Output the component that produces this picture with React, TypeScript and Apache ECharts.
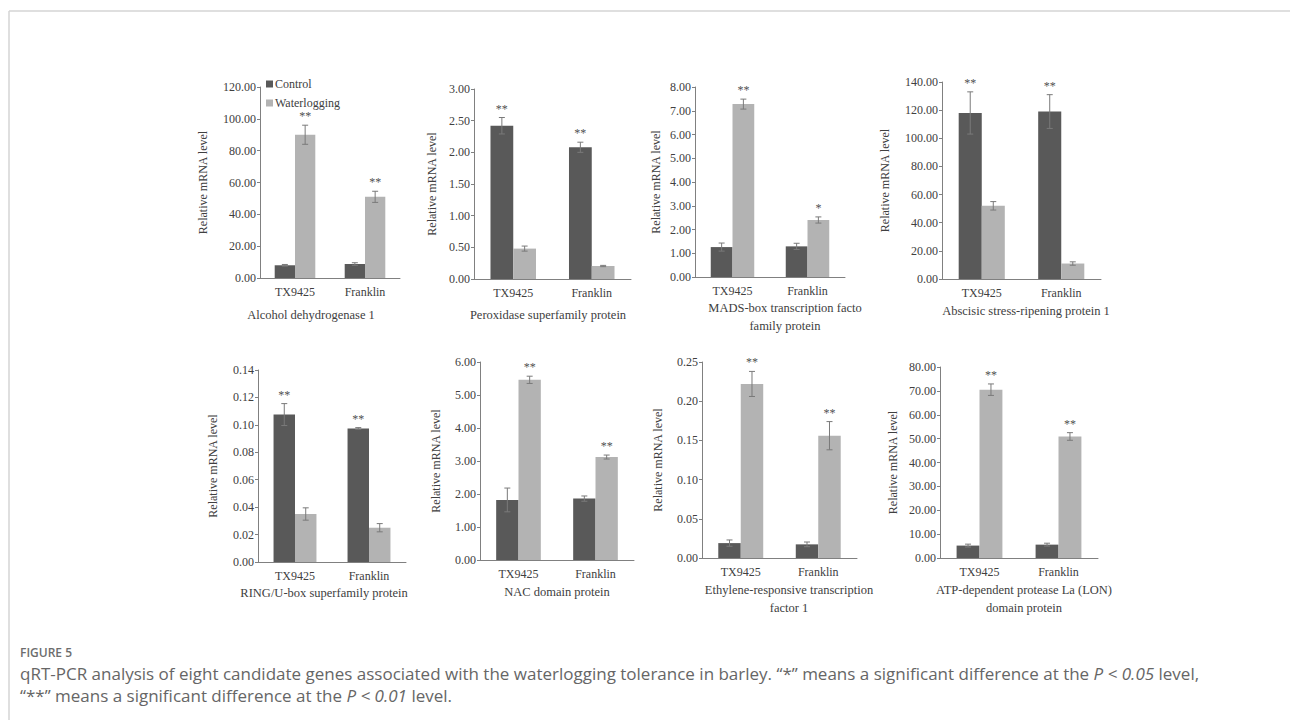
import React, { useEffect, useRef } from "react";
import * as echarts from "echarts";

// Shared categories and series
const categories = ["TX9425", "Franklin"];
const seriesNames = ["Control", "Waterlogging"];

// One entry per gene panel: [TX9425, Franklin]
const controlMeans = [
  [8.0, 8.8],
  [2.42, 2.08],
  [1.26, 1.29],
  [118, 119],
  [0.1075, 0.0974],
  [1.82, 1.86],
  [0.019, 0.0174],
  [5.2, 5.6],
];
const controlErrors = [
  [0.5, 0.8],
  [0.13, 0.08],
  [0.17, 0.13],
  [15, 12],
  [0.008, 0.0006],
  [0.36, 0.08],
  [0.004, 0.003],
  [0.6, 0.6],
];
const waterMeans = [
  [90, 51],
  [0.48, 0.205],
  [7.28, 2.4],
  [52, 11],
  [0.035, 0.025],
  [5.46, 3.12],
  [0.222, 0.156],
  [70.5, 50.9],
];
const waterErrors = [
  [6, 3.5],
  [0.04, 0.01],
  [0.21, 0.13],
  [3, 1.2],
  [0.0045, 0.003],
  [0.11, 0.06],
  [0.016, 0.018],
  [2.4, 1.6],
];
const controlMarks = [
  ["", ""],
  ["**", "**"],
  ["", ""],
  ["**", "**"],
  ["**", "**"],
  ["", ""],
  ["", ""],
  ["", ""],
];
const waterMarks = [
  ["**", "**"],
  ["", ""],
  ["**", "*"],
  ["", ""],
  ["", ""],
  ["**", "**"],
  ["**", "**"],
  ["**", "**"],
];
const yMax = [120, 3, 8, 140, 0.14, 6, 0.25, 80];
const yStep = [20, 0.5, 1, 20, 0.02, 1, 0.05, 10];
const geneTitles = [
  ["Alcohol dehydrogenase 1"],
  ["Peroxidase superfamily protein"],
  ["MADS-box transcription facto", "family protein"],
  ["Abscisic stress-ripening protein 1"],
  ["RING/U-box superfamily protein"],
  ["NAC domain protein"],
  ["Ethylene-responsive transcription", "factor 1"],
  ["ATP-dependent protease La (LON)", "domain protein"],
];
const yAxisTitle = "Relative mRNA level";
const figureLabel = "FIGURE 5";
const captionLine1 =
  "qRT-PCR analysis of eight candidate genes associated with the waterlogging tolerance in barley. \u201c*\u201d means a significant difference at the {i|P < 0.05} level,";
const captionLine2 = "\u201c**\u201d means a significant difference at the {i|P < 0.01} level.";

// Panel placement in pixels
const panels = [
  { left: 260, top: 87, width: 140, height: 191, nameX: 203, titleX: 311, titleY: 315 },
  { left: 474, top: 89, width: 157, height: 190, nameX: 432, titleX: 548, titleY: 315 },
  { left: 695, top: 87, width: 150, height: 190, nameX: 656, titleX: 785, titleY: 308 },
  { left: 942, top: 82, width: 159, height: 197, nameX: 885, titleX: 1026, titleY: 311 },
  { left: 258, top: 370, width: 148, height: 192, nameX: 213, titleX: 324, titleY: 593 },
  { left: 480, top: 362, width: 154, height: 198, nameX: 436, titleX: 557, titleY: 592 },
  { left: 702, top: 362, width: 155, height: 196, nameX: 658, titleX: 789, titleY: 590 },
  { left: 940, top: 367, width: 158, height: 191, nameX: 893, titleX: 1024, titleY: 590 },
];

const SERIF = '"Liberation Serif", "Times New Roman", serif';
const SANS = '"Open Sans", "Noto Sans", sans-serif';
const TEXT = "#404040";
const AXIS = "#808080";
const DARK = "#595959";
const LIGHT = "#b3b3b3";
const BAR_FRACTION = 0.29;

function errorSeries(i: number, means: number[], errs: number[], marks: string[], side: number) {
  return {
    type: "custom",
    xAxisIndex: i,
    yAxisIndex: i,
    z: 5,
    clip: false,
    data: categories.map((_, j) => [j, means[j], errs[j]]),
    renderItem: (params: any, api: any) => {
      const xi = api.value(0);
      const mean = api.value(1);
      const err = api.value(2);
      const band = api.size([1, 0])[0];
      const bw = band * BAR_FRACTION;
      const top = api.coord([xi, mean + err]);
      const bot = api.coord([xi, mean - err]);
      const x = top[0] + (side * bw) / 2;
      const cap = 3;
      const lineStyle = { stroke: "#7a7a7a", lineWidth: 1 };
      const children: any[] = [
        { type: "line", shape: { x1: x, y1: top[1], x2: x, y2: bot[1] }, style: lineStyle },
        { type: "line", shape: { x1: x - cap, y1: top[1], x2: x + cap, y2: top[1] }, style: lineStyle },
        { type: "line", shape: { x1: x - cap, y1: bot[1], x2: x + cap, y2: bot[1] }, style: lineStyle },
      ];
      const mark = marks[params.dataIndex];
      if (mark) {
        children.push({
          type: "text",
          x: x,
          y: top[1] - 3,
          style: {
            text: mark,
            fill: "#505050",
            font: `12px ${SERIF}`,
            align: "center",
            verticalAlign: "bottom",
          },
        });
      }
      return { type: "group", children };
    },
  };
}

function buildOption() {
  const grid: any[] = [];
  const xAxis: any[] = [];
  const yAxis: any[] = [];
  const series: any[] = [];
  const graphic: any[] = [];

  panels.forEach((p, i) => {
    grid.push({ left: p.left, top: p.top, width: p.width, height: p.height });
    xAxis.push({
      gridIndex: i,
      type: "category",
      data: categories,
      axisLine: { lineStyle: { color: AXIS, width: 1 } },
      axisTick: { show: false },
      axisLabel: { margin: 8, fontSize: 12, fontFamily: SERIF, color: TEXT },
    });
    yAxis.push({
      gridIndex: i,
      type: "value",
      min: 0,
      max: yMax[i],
      interval: yStep[i],
      splitLine: { show: false },
      axisLine: { show: true, lineStyle: { color: AXIS, width: 1 } },
      axisTick: { show: true, length: 3, lineStyle: { color: AXIS } },
      axisLabel: {
        margin: 4,
        fontSize: 12,
        fontFamily: SERIF,
        color: TEXT,
        formatter: (v: number) => v.toFixed(2),
      },
    });
    series.push({
      type: "bar",
      name: seriesNames[0],
      xAxisIndex: i,
      yAxisIndex: i,
      data: controlMeans[i],
      barWidth: `${BAR_FRACTION * 100}%`,
      barGap: "0%",
      itemStyle: { color: DARK },
    });
    series.push({
      type: "bar",
      name: seriesNames[1],
      xAxisIndex: i,
      yAxisIndex: i,
      data: waterMeans[i],
      barWidth: `${BAR_FRACTION * 100}%`,
      barGap: "0%",
      itemStyle: { color: LIGHT },
    });
    series.push(errorSeries(i, controlMeans[i], controlErrors[i], controlMarks[i], -1));
    series.push(errorSeries(i, waterMeans[i], waterErrors[i], waterMarks[i], 1));

    // rotated y-axis title
    graphic.push({
      type: "text",
      x: p.nameX,
      y: p.top + p.height / 2,
      rotation: Math.PI / 2,
      style: {
        text: yAxisTitle,
        font: `12px ${SERIF}`,
        fill: TEXT,
        align: "center",
        verticalAlign: "middle",
      },
    });
    // gene name under the panel
    geneTitles[i].forEach((line, k) => {
      graphic.push({
        type: "text",
        x: p.titleX,
        y: p.titleY + k * 18,
        style: {
          text: line,
          font: `12.5px ${SERIF}`,
          fill: TEXT,
          align: "center",
          verticalAlign: "middle",
        },
      });
    });
  });

  // page frame
  graphic.push({
    type: "line",
    shape: { x1: 9, y1: 11, x2: 1290, y2: 11 },
    style: { stroke: "#d4d4d4", lineWidth: 1.5 },
  });
  graphic.push({
    type: "line",
    shape: { x1: 9, y1: 11, x2: 9, y2: 720 },
    style: { stroke: "#d4d4d4", lineWidth: 1.5 },
  });

  // caption
  graphic.push({
    type: "text",
    x: 20,
    y: 652,
    style: {
      text: figureLabel,
      font: `600 12px ${SANS}`,
      fill: "#6d6d6d",
      align: "left",
      verticalAlign: "middle",
    },
  });
  [captionLine1, captionLine2].forEach((line, k) => {
    graphic.push({
      type: "text",
      x: 20,
      y: 673 + k * 22,
      style: {
        text: line,
        fontFamily: SANS,
        fontSize: 17,
        fill: "#666666",
        align: "left",
        verticalAlign: "middle",
        rich: {
          i: { fontFamily: SANS, fontSize: 17, fontStyle: "italic", fill: "#666666" },
        },
      },
    });
  });

  return {
    animation: false,
    backgroundColor: "#ffffff",
    legend: {
      data: seriesNames,
      orient: "vertical",
      left: 266,
      top: 77,
      itemWidth: 7,
      itemHeight: 7,
      itemGap: 5,
      icon: "rect",
      selectedMode: false,
      textStyle: { fontFamily: SERIF, fontSize: 12, color: TEXT, lineHeight: 14, padding: [0, 0, 0, -3] },
      padding: 0,
    },
    grid,
    xAxis,
    yAxis,
    series,
    graphic,
  };
}

export default function App() {
  const ref = useRef<HTMLDivElement>(null);
  useEffect(() => {
    if (!ref.current) return;
    const chart = echarts.init(ref.current, undefined, { renderer: "svg" });
    chart.setOption(buildOption() as any);
    return () => chart.dispose();
  }, []);
  return (
    <div
      ref={ref}
      style={{ position: "fixed", left: 0, top: 0, width: 1290, height: 720, background: "#fff" }}
    />
  );
}
